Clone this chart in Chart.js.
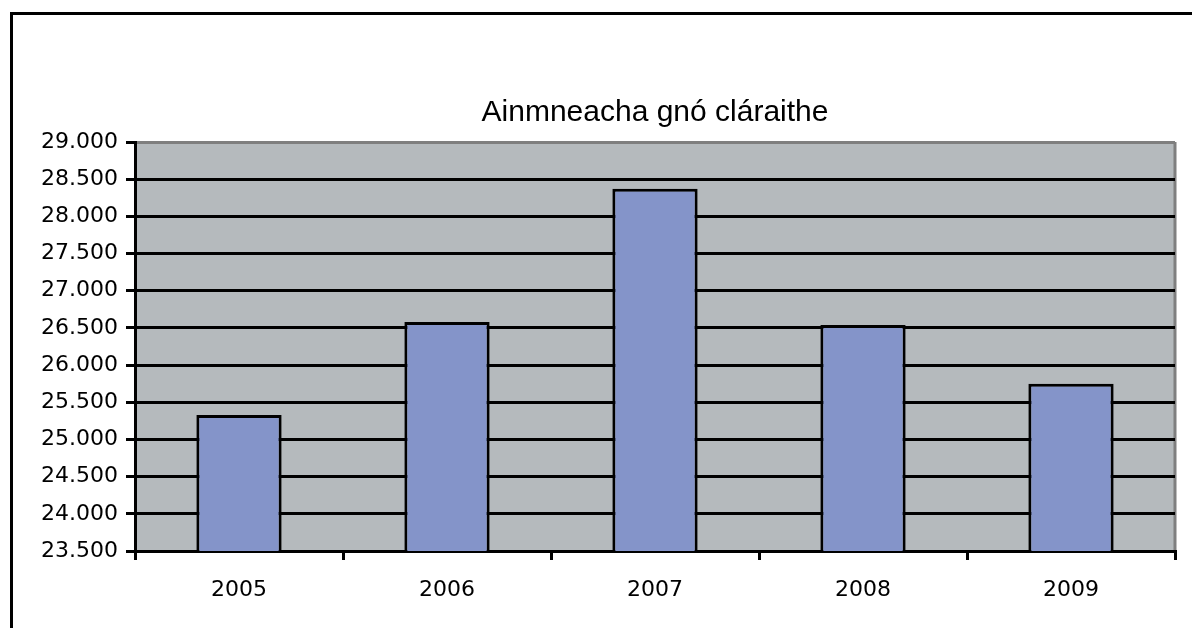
<!DOCTYPE html>
<html>
<head>
<meta charset="utf-8">
<script src="https://cdn.jsdelivr.net/npm/chart.js@4"></script>
<style>
    body { margin:0; background:#fff; }
    #wrap { width:1192px; height:628px; position:relative; }
</style>
</head>
<body>
<div id="wrap"><canvas id="chart"></canvas></div>
<script>
// values
const years=['2005','2006','2007','2008','2009'];
const registered=[25330,26580,28370,26540,25750];
const yMin=23500, yMax=29000, yStep=500;

function thousands(v) {
    let s=String(Math.round(v)),
        out='';
    while (s.length>3) {
        out='.'+s.slice(-3)+out;
        s=s.slice(0,-3);
    }
    return s+out;
}

// grey plot background, grey right edge and the outer frame
const excelLook={
    id:'excelLook',
    beforeDraw(chart) {
        let ctx=chart.ctx, a=chart.chartArea;
        ctx.save();
        ctx.fillStyle='#b5babd';
        ctx.fillRect(a.left,a.top,a.right-a.left,a.bottom-a.top);
        ctx.strokeStyle='#7f7f7f';
        ctx.lineWidth=3;
        ctx.beginPath();
        ctx.moveTo(a.right,a.top);
        ctx.lineTo(a.right,a.bottom);
        ctx.stroke();
        ctx.restore();
    },
    afterDraw(chart) {
        let ctx=chart.ctx;
        ctx.save();
        ctx.strokeStyle='#000';
        ctx.lineWidth=3;
        ctx.beginPath();
        ctx.moveTo(11.5,chart.height);
        ctx.lineTo(11.5,13.5);
        ctx.lineTo(chart.width,13.5);
        ctx.stroke();
        ctx.restore();
    }
};

new Chart(document.getElementById('chart'),{
    type:'bar',
    data:{
        labels:years,
        datasets:[{
            label:'Ainmneacha gnó cláraithe',
            data:registered,
            backgroundColor:'#8494c9',
            borderColor:'#000',
            borderWidth:3,
            borderSkipped:false,
            categoryPercentage:0.41,
            barPercentage:1
        }]
    },
    options:{
        responsive:true,
        maintainAspectRatio:false,
        animation:false,
        layout:{ padding:{ top:80, right:17, bottom:25, left:0 } },
        plugins:{
            legend:{ display:false },
            tooltip:{ enabled:false },
            title:{
                display:true,
                fullSize:false,
                text:'Ainmneacha gnó cláraithe',
                color:'#000',
                font:{ family:'Liberation Sans', size:30, weight:'normal' },
                padding:{ top:15, bottom:11 }
            }
        },
        scales:{
            x:{
                grid:{
                    offset:true,
                    drawOnChartArea:false,
                    drawTicks:true,
                    tickLength:9,
                    tickColor:'#000',
                    tickWidth:3,
                    lineWidth:3
                },
                border:{ color:'#000', width:3 },
                ticks:{
                    color:'#000',
                    padding:17,
                    font:{ family:'DejaVu Sans', size:22 }
                },
                afterFit(scale) { scale.height=52; }
            },
            y:{
                min:yMin,
                max:yMax,
                grid:{
                    color:c=>(c.tick && c.tick.value===yMax) ? '#7f7f7f' : '#000',
                    lineWidth:3,
                    tickLength:9,
                    tickColor:'#000',
                    tickWidth:3
                },
                border:{ color:'#000', width:3 },
                ticks:{
                    stepSize:yStep,
                    color:'#000',
                    padding:8,
                    font:{ family:'DejaVu Sans', size:22 },
                    callback:v=>thousands(v)
                },
                afterFit(scale) { scale.width=135; }
            }
        }
    },
    plugins:[excelLook]
});
</script>
</body>
</html>
